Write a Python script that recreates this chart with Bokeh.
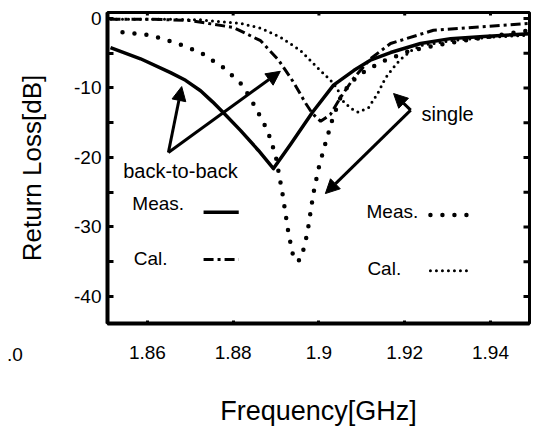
import numpy as np
from bokeh.plotting import figure
from bokeh.layouts import column
from bokeh.models import Range1d, FixedTicker, Label, Arrow, NormalHead, Div
from bokeh.embed import file_html
from bokeh.resources import INLINE

FONT = "Liberation Sans"

# ---- data ----
# back-to-back, measured (solid)
freq_b2b_meas = [1.8514, 1.8584, 1.8654, 1.8689, 1.8724, 1.8752, 1.8778, 1.8817, 1.8859,
                 1.8894, 1.8934, 1.8985, 1.9034, 1.9081, 1.9120, 1.9167, 1.9237, 1.9307,
                 1.9384, 1.9491]
rl_b2b_meas = [-4.2, -5.8, -7.8, -8.9, -10.4, -12.0, -13.6, -16.1, -19.0,
               -21.6, -18.1, -13.5, -9.6, -7.5, -6.0, -4.9, -3.6, -2.9,
               -2.6, -2.2]

# back-to-back, calculated (dash-dot)
freq_b2b_cal = [1.8514, 1.8607, 1.8701, 1.8801, 1.8864, 1.8906, 1.8941, 1.8969, 1.8985,
                1.9004, 1.9027, 1.9050, 1.9081, 1.9120, 1.9167, 1.9267, 1.9377, 1.9491]
rl_b2b_cal = [-0.1, -0.1, -0.3, -1.3, -3.2, -6.0, -9.2, -12.2, -13.7,
              -14.8, -13.8, -11.4, -8.6, -5.8, -3.6, -1.7, -1.2, -0.7]

# single, measured (sparse dots)
freq_single_meas = [1.8542, 1.8607, 1.8666, 1.8724, 1.8778, 1.8822, 1.8852, 1.8880, 1.8899,
                    1.8915, 1.8929, 1.8941, 1.8950, 1.8959, 1.8973, 1.8987, 1.8999, 1.9015,
                    1.9032, 1.9050, 1.9074, 1.9102, 1.9144, 1.9214, 1.9307, 1.9400, 1.9491]
rl_single_meas = [-2.0, -2.4, -3.5, -4.9, -7.1, -9.6, -12.8, -16.1, -19.7,
                  -25.2, -30.9, -34.5, -35.0, -34.5, -30.9, -25.2, -21.6, -18.0,
                  -14.4, -11.4, -9.2, -7.8, -6.3, -4.6, -3.5, -2.6, -1.7]

# single, calculated (dense dots)
freq_single_cal = [1.8514, 1.8631, 1.8724, 1.8817, 1.8864, 1.8910, 1.8957, 1.8997, 1.9027,
                   1.9043, 1.9055, 1.9074, 1.9092, 1.9116, 1.9137, 1.9155, 1.9172, 1.9190,
                   1.9214, 1.9237, 1.9307, 1.9400, 1.9491]
rl_single_cal = [-0.1, -0.1, -0.2, -0.7, -1.4, -2.7, -4.6, -7.1, -8.9,
                 -10.1, -11.8, -12.9, -13.5, -12.8, -10.8, -8.6, -7.2, -5.9,
                 -4.7, -3.9, -3.2, -2.7, -2.4]

x_ticks = [1.86, 1.88, 1.90, 1.92, 1.94]
x_tick_labels = ["1.86", "1.88", "1.9", "1.92", "1.94"]
y_ticks = [0, -10, -20, -30, -40]
y_tick_labels = ["0", "-10", "-20", "-30", "-40"]
y_minor_ticks = [-5, -15, -25, -35]

# legend samples
legend_left_x = [1.8731, 1.8813]
legend_right_x = [1.9260, 1.9356]
legend_meas_y = [-27.9, -27.9]
legend_cal_y = [-34.7, -34.7]
legend_meas_r_y = [-28.3, -28.3]
legend_cal_r_y = [-36.3, -36.3]

X0, X1 = 1.8507, 1.9491
Y0, Y1 = -43.9, 0.86

p = figure(width=536, height=428, output_backend="svg", toolbar_location=None,
           x_range=Range1d(X0, X1), y_range=Range1d(Y0, Y1),
           min_border_left=107, min_border_right=7, min_border_top=12, min_border_bottom=105)
p.grid.visible = False
p.outline_line_color = "black"
p.outline_line_width = 3
p.background_fill_color = "white"
p.border_fill_color = "white"

xa = p.xaxis[0]
xa.ticker = FixedTicker(ticks=x_ticks)
xa.major_label_overrides = {t: s for t, s in zip(x_ticks, x_tick_labels)}
ya = p.yaxis[0]
ya.ticker = FixedTicker(ticks=y_ticks, minor_ticks=y_minor_ticks)
ya.major_label_overrides = {t: s for t, s in zip(y_ticks, y_tick_labels)}

for ax in (xa, ya):
    ax.axis_line_width = 4
    ax.major_tick_in = 6
    ax.major_tick_out = 0
    ax.minor_tick_in = 6
    ax.minor_tick_out = 0
    ax.major_tick_line_width = 3
    ax.minor_tick_line_width = 3
    ax.major_label_text_font = FONT
    ax.major_label_text_font_size = "19px"
    ax.major_label_text_color = "black"
    ax.axis_label_text_font = FONT
    ax.axis_label_text_font_style = "normal"
    ax.axis_label_text_color = "black"

xa.major_tick_in = 3
xa.axis_label = "Frequency[GHz]"
xa.axis_label_text_font_size = "27px"
xa.major_label_standoff = 22
xa.axis_label_standoff = 34
ya.axis_label = "Return Loss[dB]"
ya.axis_label_text_font_size = "26px"
ya.major_label_standoff = 6
ya.axis_label_standoff = 24

# inside ticks on the right and top edges of the box
right_tick_y = y_ticks + y_minor_ticks
p.ray(x=[X1] * len(right_tick_y), y=right_tick_y, length=6, length_units="screen",
      angle=np.pi, line_color="black", line_width=3)
p.ray(x=x_ticks, y=[Y1] * len(x_ticks), length=3, length_units="screen",
      angle=-np.pi / 2, line_color="black", line_width=3)

# curves
p.line(freq_b2b_meas, rl_b2b_meas, line_color="black", line_width=3.5, line_join="round")
p.line(freq_b2b_cal, rl_b2b_cal, line_color="black", line_width=3, line_dash="10 4 3 4")
p.line(freq_single_meas, rl_single_meas, line_color="black", line_width=4.5,
       line_dash="0 12", line_cap="round")
p.line(freq_single_cal, rl_single_cal, line_color="black", line_width=3,
       line_dash="0 6", line_cap="round")

# legend samples
p.line(legend_left_x, legend_meas_y, line_color="black", line_width=3.5)
p.line(legend_left_x, legend_cal_y, line_color="black", line_width=3, line_dash="10 4 3 4")
p.line(legend_right_x, legend_meas_r_y, line_color="black", line_width=4.5,
       line_dash="0 12", line_cap="round")
p.line(legend_right_x, legend_cal_r_y, line_color="black", line_width=3,
       line_dash="0 6", line_cap="round")

def lab(x, y, text, align="left", size="19px"):
    p.add_layout(Label(x=x, y=y, text=text, text_font=FONT, text_font_size=size,
                       text_color="black", text_align=align, text_baseline="middle"))

lab(1.8565, -26.6, "Meas.")
lab(1.8568, -34.5, "Cal.")
lab(1.9111, -27.8, "Meas.")
lab(1.9113, -36.0, "Cal.")
lab(1.8677, -22.0, "back-to-back", align="center", size="20px")
lab(1.9300, -13.7, "single", align="center", size="20px")

def arrow(xs, ys, xe, ye):
    p.add_layout(Arrow(end=NormalHead(size=14, fill_color="black", line_color="black"),
                       x_start=xs, y_start=ys, x_end=xe, y_end=ye,
                       line_color="black", line_width=3))

arrow(1.8649, -19.3, 1.8680, -9.8)
arrow(1.8649, -19.3, 1.8910, -7.6)
arrow(1.9214, -13.2, 1.9174, -10.8)
arrow(1.9214, -13.2, 1.9015, -25.2)

# cut-off fragment at the far left of the picture (outside the plot canvas area)
frag = Div(text=".0", styles={"position": "absolute", "left": "2px", "top": "339px",
                              "font-family": FONT, "font-size": "19px", "color": "black",
                              "line-height": "22px", "white-space": "nowrap"})

layout = column(p, frag)
open("out.html", "w").write(file_html(layout, INLINE))
